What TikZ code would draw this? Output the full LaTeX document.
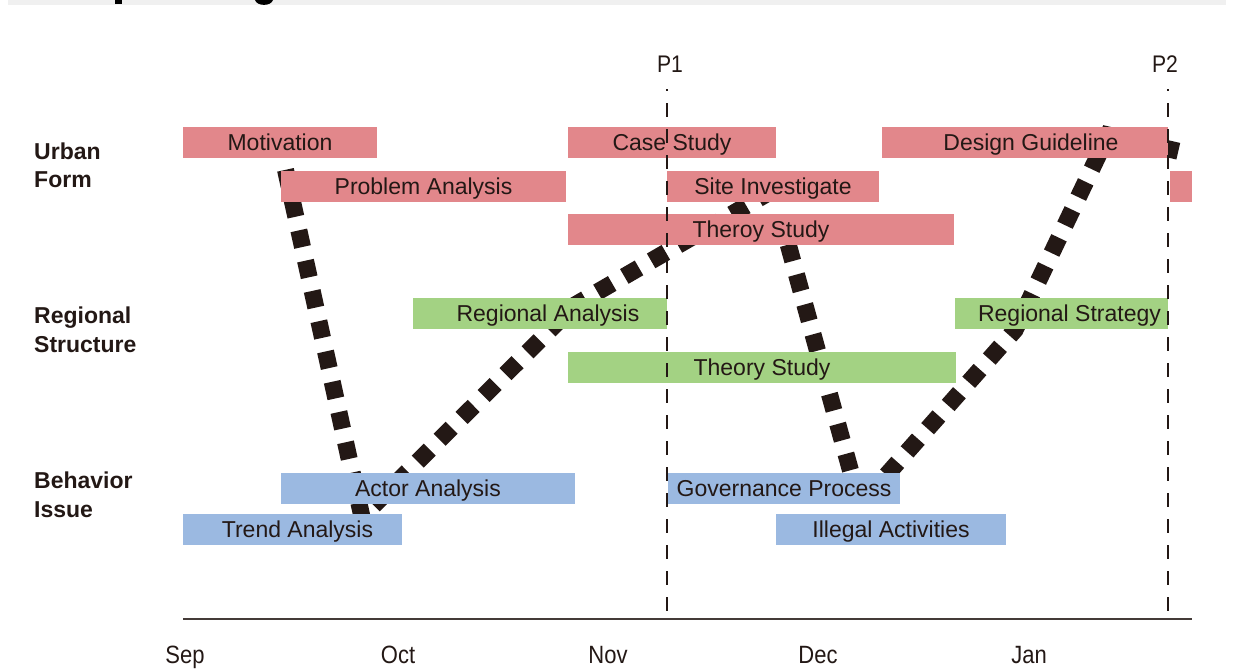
\documentclass[tikz,border=0pt]{standalone}
\usepackage{fontspec}
\setmainfont{Liberation Sans}
\definecolor{ink}{RGB}{35,24,21}
\definecolor{urbanfill}{RGB}{226,135,139}
\definecolor{regionfill}{RGB}{163,210,131}
\definecolor{behaviorfill}{RGB}{155,185,225}
\definecolor{bandgrey}{RGB}{240,240,240}
\newcommand{\narrowtext}[1]{\scalebox{0.88}[1]{#1}}
\begin{document}
\begin{tikzpicture}[x=1pt,y=-1pt,
  taskbar/.style={rectangle, inner sep=0pt, minimum height=31pt, text=ink,
    text height=16.5pt, text depth=0pt, font=\fontsize{23}{28}\selectfont},
  urbanbar/.style={taskbar, fill=urbanfill},
  regionbar/.style={taskbar, fill=regionfill},
  behaviorbar/.style={taskbar, fill=behaviorfill},
  flowline/.style={draw=ink, line width=17pt, line cap=butt},
  milestone/.style={draw=ink, line width=1.2pt, dash pattern=on 14pt off 12pt, dash phase=12pt},
  rowlabel/.style={font=\bfseries\fontsize{23}{28.5}\selectfont, align=left,
    anchor=north west, inner sep=0pt, text=ink},
  monthlabel/.style={font=\fontsize{25}{28}\selectfont, anchor=base, inner sep=0pt, text=ink},
  plabel/.style={font=\fontsize{24}{28}\selectfont, anchor=base, inner sep=0pt, text=ink}]

\useasboundingbox (0,0) rectangle (1234,669);

% heading band (cut at the top edge)
\fill[bandgrey] (8,0) rectangle (1226,5);
\fill[black] (115,0) rectangle (122,4.5);
\fill[black] (255,0) .. controls (257,6.5) and (271,6.5) .. (273,0) -- cycle;

% flow path coordinates
\coordinate (a1) at (284,163);
\coordinate (a2) at (362,517);
\coordinate (a3) at (575,305);
\coordinate (a4) at (770,192);
\coordinate (b1) at (782,222);
\coordinate (b2) at (860,505);
\coordinate (b3) at (1015,330);
\coordinate (b4) at (1108,135);
\coordinate (b5) at (1186,153);

% thick dashed flows, beneath the task bars
\draw[flowline, dash pattern=on 17pt off 14pt, dash phase=24pt] (a1) -- (a2) -- (a3) -- (a4);
\draw[flowline, dash pattern=on 17pt off 14pt, dash phase=7.5pt] (b1) -- (b2) -- (b3) -- (b4) -- (b5);

% urban form tasks
\node[urbanbar, minimum width=194pt] (motiv) at (280,142.5) {Motivation};
\node[urbanbar, minimum width=285pt] (problem) at (423.5,186.5) {Problem Analysis};
\node[urbanbar, minimum width=208pt] (casestudy) at (672,142.5) {Case Study};
\node[urbanbar, minimum width=212pt] (siteinv) at (773,186.5) {Site Investigate};
\node[urbanbar, minimum width=386pt] (theroy) at (761,229.5) {Theroy Study};
\node[urbanbar, minimum width=286pt] (design) at (1025,142.5) {\hspace*{12pt}Design Guideline};
\node[urbanbar, minimum width=22pt] (nextstep) at (1181,186.5) {};

% regional structure tasks
\node[regionbar, minimum width=254pt] (regana) at (540,313.5) {\hspace*{16pt}Regional Analysis};
\node[regionbar, minimum width=388pt] (theorygreen) at (762,367.5) {Theory Study};
\node[regionbar, minimum width=213pt] (regstrat) at (1061.5,313.5) {\hspace*{16pt}Regional Strategy};

% behavior issue tasks
\node[behaviorbar, minimum width=294pt] (actor) at (428,488.5) {Actor Analysis};
\node[behaviorbar, minimum width=219pt] (trend) at (292.5,529.5) {\hspace*{10pt}Trend Analysis};
\node[behaviorbar, minimum width=232pt] (gov) at (784,488.5) {Governance Process};
\node[behaviorbar, minimum width=230pt] (illegal) at (891,529.5) {Illegal Activities};

% milestones
\coordinate (p1top) at (667,89);
\coordinate (p1bot) at (667,619);
\coordinate (p2top) at (1168,89);
\coordinate (p2bot) at (1168,619);
\draw[milestone] (p1top) -- (p1bot);
\draw[milestone] (p2top) -- (p2bot);
\node[plabel] (p1) at (670,73) {\narrowtext{P1}};
\node[plabel] (p2) at (1165,73) {\narrowtext{P2}};

% time axis
\coordinate (axl) at (183,619);
\coordinate (axr) at (1192,619);
\draw[ink!85, line width=1.5pt] (axl) -- (axr);
\node[monthlabel] (sep) at (185,663) {\narrowtext{Sep}};
\node[monthlabel] (oct) at (398,663) {\narrowtext{Oct}};
\node[monthlabel] (nov) at (608,663) {\narrowtext{Nov}};
\node[monthlabel] (dec) at (818,663) {\narrowtext{Dec}};
\node[monthlabel] (jan) at (1029,663) {\narrowtext{Jan}};

% row headings
\node[rowlabel] (rowurban) at (34,142.5) {Urban\\Form};
\node[rowlabel] (rowregion) at (34,307) {Regional\\Structure};
\node[rowlabel] (rowbehavior) at (34,472) {Behavior\\Issue};
\end{tikzpicture}
\end{document}
